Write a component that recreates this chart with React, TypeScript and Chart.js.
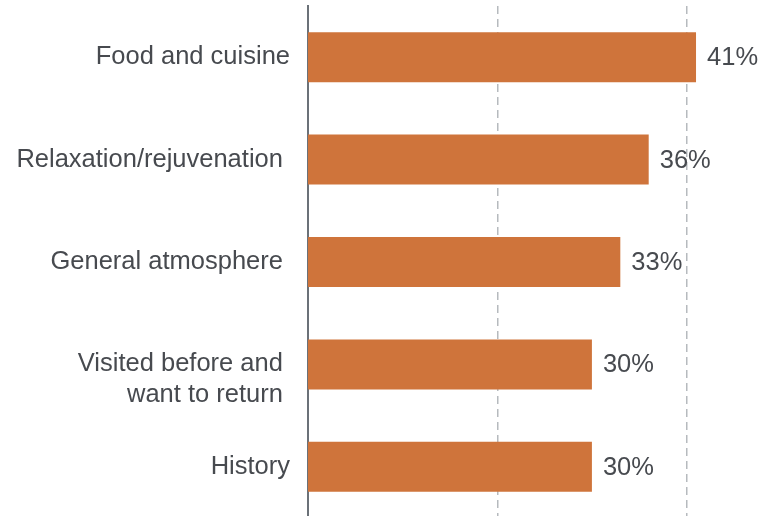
import React, { useEffect, useRef } from "react";
import { Chart, registerables } from "chart.js";

Chart.register(...registerables);

const categories: (string | string[])[] = [
  "Food and cuisine",
  "Relaxation/rejuvenation ",
  "General atmosphere ",
  ["", "Visited before and ", "want to return "],
  "History",
];
const values: number[] = [41, 36, 33, 30, 30];
const valueLabels: string[] = ["41%", "36%", "33%", "30%", "30%"];
const gridTicks: number[] = [20, 40];

const FONT = "'Liberation Sans', Arial, sans-serif";
const TEXT = "#474a4f";
const BAR = "#cf743b";

const valueLabelPlugin = {
  id: "valueLabels",
  afterDatasetsDraw(chart: any) {
    const ctx = chart.ctx;
    const meta = chart.getDatasetMeta(0);
    ctx.save();
    ctx.font = `25.5px ${FONT}`;
    ctx.fillStyle = TEXT;
    ctx.textAlign = "left";
    ctx.textBaseline = "middle";
    meta.data.forEach((el: any, i: number) => {
      ctx.fillText(valueLabels[i], el.x + 11, el.y + 1);
    });
    ctx.restore();
  },
};

export default function App() {
  const ref = useRef<HTMLCanvasElement | null>(null);
  useEffect(() => {
    if (!ref.current) return;
    const chart = new Chart(ref.current, {
      type: "bar",
      data: {
        labels: categories as any,
        datasets: [
          {
            data: values,
            backgroundColor: BAR,
            borderWidth: 0,
            barPercentage: 0.488,
            categoryPercentage: 1,
          },
        ],
      },
      options: {
        indexAxis: "y",
        animation: false,
        responsive: false,
        layout: { padding: { top: 6, bottom: 0, left: 0, right: 0 } },
        plugins: {
          legend: { display: false },
          tooltip: { enabled: false },
        },
        scales: {
          x: {
            min: 0,
            max: 48.5,
            ticks: {
              display: false,
              stepSize: 20,
              includeBounds: false,
            },
            afterBuildTicks: (axis: any) => {
              axis.ticks = gridTicks.map((v) => ({ value: v }));
            },
            afterFit: (axis: any) => {
              axis.height = 0;
              axis.paddingLeft = 0;
              axis.paddingRight = 0;
            },
            grid: {
              drawTicks: false,
              lineWidth: 1.5,
              color: "#b6babe",
            },
            border: { display: false, dash: [8, 5] },
          },
          y: {
            afterFit: (axis: any) => {
              axis.width = 308;
              axis.paddingTop = 0;
              axis.paddingBottom = 0;
            },
            ticks: {
              padding: 18,
              color: TEXT,
              font: { family: FONT, size: 25.5, lineHeight: 1.18 },
            },
            grid: { display: false, drawTicks: false },
            border: { display: true, color: "#6b7178", width: 2 },
          },
        },
      },
      plugins: [valueLabelPlugin],
    });
    return () => chart.destroy();
  }, []);
  return (
    <div
      style={{
        position: "fixed",
        top: 0,
        left: 0,
        width: 767,
        height: 516,
        overflow: "hidden",
        background: "#fff",
      }}
    >
      <canvas ref={ref} width={767} height={518} style={{ width: 767, height: 518, display: "block" }} />
    </div>
  );
}
